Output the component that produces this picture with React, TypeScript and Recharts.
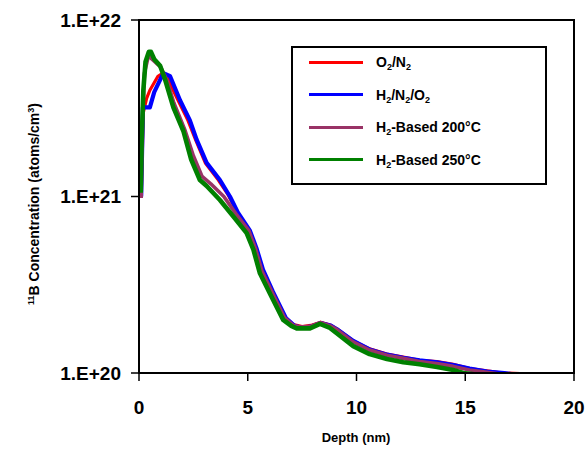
import React from 'react';
import { LineChart, Line, XAxis, YAxis, Legend, Customized } from 'recharts';

const FONT = '"Liberation Sans", Arial, Helvetica, sans-serif';

// Depth ticks (nm) and concentration ticks (atoms/cm3)
const depthTicks = [0, 5, 10, 15, 20];
const concTicks = [1e20, 1e21, 1e22];

// O2/N2
const depthO2N2 = [0.1, 0.2, 0.35, 0.5, 0.87, 1.1, 1.3, 1.8, 2.25, 2.6, 3.05, 3.65, 4.1, 4.5, 5.05, 5.35, 5.65, 6.1, 6.7, 7.1, 7.5, 7.9, 8.35, 8.8, 9.1, 9.85, 10.6, 11.4, 12.15, 12.9, 13.7, 14.45, 15.2, 16.0, 16.7, 17.8];
const concO2N2 = [1.0e21, 3.0e21, 3.6e21, 4.0e21, 4.8e21, 5.0e21, 4.7e21, 3.5e21, 2.7e21, 2.1e21, 1.55e21, 1.24e21, 1.02e21, 8.2e20, 6.5e20, 5.2e20, 3.9e20, 2.95e20, 2.08e20, 1.88e20, 1.83e20, 1.86e20, 1.94e20, 1.87e20, 1.78e20, 1.52e20, 1.37e20, 1.28e20, 1.23e20, 1.18e20, 1.16e20, 1.12e20, 1.06e20, 1.03e20, 1.0e20, 0.99e20];

// H2/N2/O2
const depthH2N2O2 = [0.1, 0.18, 0.5, 0.7, 1.12, 1.43, 1.89, 2.34, 2.65, 3.11, 3.72, 4.18, 4.55, 5.1, 5.4, 5.7, 6.15, 6.75, 7.15, 7.5, 7.9, 8.35, 8.8, 9.1, 9.85, 10.6, 11.4, 12.15, 12.9, 13.7, 14.45, 15.2, 16.0, 16.8, 17.3];
const concH2N2O2 = [1.0e21, 3.2e21, 3.2e21, 3.9e21, 5.0e21, 4.8e21, 3.5e21, 2.7e21, 2.1e21, 1.55e21, 1.24e21, 1.0e21, 8.1e20, 6.4e20, 5.1e20, 3.85e20, 2.9e20, 2.05e20, 1.85e20, 1.8e20, 1.83e20, 1.92e20, 1.86e20, 1.77e20, 1.52e20, 1.36e20, 1.27e20, 1.22e20, 1.18e20, 1.15e20, 1.11e20, 1.06e20, 1.02e20, 1.0e20, 0.98e20];

// H2-Based 200°C
const depthH200 = [0.1, 0.15, 0.25, 0.44, 0.6, 1.0, 1.3, 1.6, 2.1, 2.5, 2.9, 3.3, 3.9, 4.45, 5.05, 5.35, 5.65, 6.1, 6.7, 7.1, 7.4, 7.9, 8.35, 8.8, 9.1, 9.85, 10.6, 11.4, 12.15, 12.9, 13.7, 14.45, 15.2, 16.0, 16.5];
const concH200 = [0.98e21, 2.5e21, 5.0e21, 6.3e21, 6.0e21, 5.4e21, 4.5e21, 3.4e21, 2.4e21, 1.7e21, 1.3e21, 1.18e21, 1.0e21, 8.0e20, 6.4e20, 5.1e20, 3.8e20, 2.9e20, 2.05e20, 1.86e20, 1.82e20, 1.84e20, 1.93e20, 1.85e20, 1.76e20, 1.5e20, 1.35e20, 1.26e20, 1.21e20, 1.16e20, 1.13e20, 1.09e20, 1.04e20, 1.01e20, 0.99e20];

// H2-Based 250°C
const depthH250 = [0.08, 0.12, 0.2, 0.3, 0.45, 0.55, 0.7, 0.97, 1.2, 1.58, 2.04, 2.4, 2.8, 3.1, 3.72, 4.34, 4.95, 5.26, 5.56, 6.02, 6.63, 7.0, 7.25, 7.86, 8.32, 8.78, 9.09, 9.85, 10.6, 11.4, 12.15, 12.9, 13.7, 14.45, 14.9, 15.5];
const concH250 = [1.05e21, 2.0e21, 4.0e21, 5.8e21, 6.6e21, 6.6e21, 6.0e21, 5.5e21, 4.6e21, 3.2e21, 2.35e21, 1.62e21, 1.24e21, 1.15e21, 0.955e21, 7.7e20, 6.2e20, 5.0e20, 3.67e20, 2.82e20, 2.0e20, 1.85e20, 1.79e20, 1.79e20, 1.9e20, 1.8e20, 1.68e20, 1.42e20, 1.28e20, 1.2e20, 1.15e20, 1.12e20, 1.08e20, 1.04e20, 1.0e20, 0.98e20];

const zip = (xs: number[], ys: number[]) => xs.map((x, i) => ({ depth: x, conc: ys[i] }));

const series = [
  { key: 'o2n2', data: zip(depthO2N2, concO2N2), color: '#FF0000', width: 3.2 },
  { key: 'h2n2o2', data: zip(depthH2N2O2, concH2N2O2), color: '#0000FF', width: 4.2 },
  { key: 'h200', data: zip(depthH200, concH200), color: '#993366', width: 3.6 },
  { key: 'h250', data: zip(depthH250, concH250), color: '#008000', width: 4.6 },
];

const legendLabels: React.ReactNode[] = [
  <span>O<sub>2</sub>/N<sub>2</sub></span>,
  <span>H<sub>2</sub>/N<sub>2</sub>/O<sub>2</sub></span>,
  <span>H<sub>2</sub>-Based 200°C</span>,
  <span>H<sub>2</sub>-Based 250°C</span>,
];

const subStyle = `.lg sub{font-size:9px;vertical-align:-3px;line-height:0}`;

const LegendBox = () => (
  <div
    className="lg"
    style={{
      border: '2px solid #000',
      background: '#fff',
      width: 252,
      height: 135,
      boxSizing: 'content-box',
      fontFamily: FONT,
      fontWeight: 'bold',
      fontSize: 14,
      color: '#000',
      position: 'relative',
    }}
  >
    <style>{subStyle}</style>
    {series.map((s, i) => (
      <div
        key={s.key}
        style={{ position: 'absolute', left: 0, top: 14 + i * 32.5 - 10, height: 20, display: 'flex', alignItems: 'center' }}
      >
        <div style={{ marginLeft: 16, width: 54, height: 3, background: s.color }} />
        <div style={{ marginLeft: 13, whiteSpace: 'nowrap' }}>{legendLabels[i]}</div>
      </div>
    ))}
  </div>
);

const Titles = () => (
  <g fontFamily={FONT} fontWeight="bold" fill="#000">
    <text x={356} y={442} textAnchor="middle" fontSize={13}>Depth (nm)</text>
    <text transform="translate(39,204) rotate(-90)" textAnchor="middle" fontSize={14}>
      <tspan fontSize={9} dy={-5}>11</tspan>
      <tspan fontSize={14} dy={5}>B Concentration (atoms/cm</tspan>
      <tspan fontSize={9} dy={-5}>3</tspan>
      <tspan fontSize={14} dy={5}>)</tspan>
    </text>
    <rect x={139} y={20} width={435} height={353} fill="none" stroke="#000" strokeWidth={2} />
  </g>
);

const fmtConc = (v: number) => `1.E+${Math.round(Math.log10(v))}`;

export default function App() {
  return (
    <div style={{ position: 'absolute', left: 0, top: 0, background: '#fff' }}>
      <LineChart width={588} height={457} margin={{ top: 20, right: 14, bottom: 0, left: 0 }}>
        <XAxis
          dataKey="depth"
          type="number"
          domain={[0, 20]}
          ticks={depthTicks}
          allowDataOverflow
          height={84}
          tickSize={8}
          tickMargin={20}
          axisLine={{ stroke: '#000', strokeWidth: 2 }}
          tickLine={{ stroke: '#000', strokeWidth: 1.5 }}
          tick={{ fill: '#000', fontSize: 19, fontWeight: 'bold', fontFamily: FONT }}
        />
        <YAxis
          dataKey="conc"
          type="number"
          scale="log"
          domain={[1e20, 1e22]}
          ticks={concTicks}
          allowDataOverflow
          width={139}
          tickSize={8}
          tickMargin={10}
          tickFormatter={fmtConc}
          axisLine={{ stroke: '#000', strokeWidth: 2 }}
          tickLine={{ stroke: '#000', strokeWidth: 1.5 }}
          tick={{ fill: '#000', fontSize: 19, fontWeight: 'bold', fontFamily: FONT }}
        />
        {series.map((s) => (
          <Line
            key={s.key}
            data={s.data}
            dataKey="conc"
            type="linear"
            stroke={s.color}
            strokeWidth={s.width}
            strokeLinejoin="round"
            dot={false}
            activeDot={false}
            isAnimationActive={false}
          />
        ))}
        <Customized component={Titles} />
        <Legend
          layout="horizontal"
          verticalAlign="middle"
          align="center"
          content={() => <LegendBox />}
          wrapperStyle={{ position: 'absolute', left: 291, top: 46, width: 256, height: 139 }}
        />
      </LineChart>
    </div>
  );
}
